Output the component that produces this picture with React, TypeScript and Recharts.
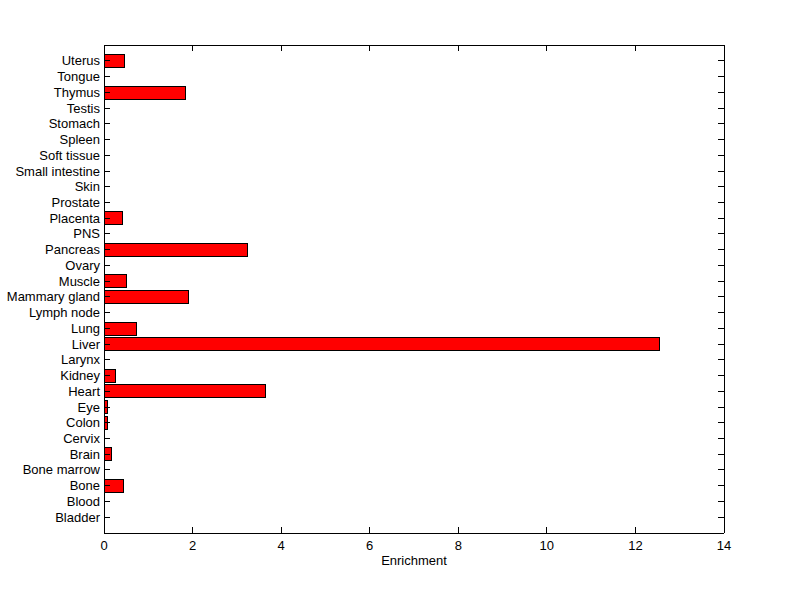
import React from 'react';
import { BarChart, Bar, XAxis, YAxis } from 'recharts';

const tissues = [
  'Bladder', 'Blood', 'Bone', 'Bone marrow', 'Brain', 'Cervix', 'Colon', 'Eye',
  'Heart', 'Kidney', 'Larynx', 'Liver', 'Lung', 'Lymph node', 'Mammary gland',
  'Muscle', 'Ovary', 'Pancreas', 'PNS', 'Placenta', 'Prostate', 'Skin',
  'Small intestine', 'Soft tissue', 'Spleen', 'Stomach', 'Testis', 'Thymus',
  'Tongue', 'Uterus',
];

const enrichment = [
  0, 0, 0.45, 0, 0.17, 0, 0.07, 0.07,
  3.64, 0.27, 0, 12.55, 0.745, 0, 1.9,
  0.5, 0, 3.25, 0, 0.41, 0, 0,
  0, 0, 0, 0, 0, 1.85,
  0, 0.47,
];

const xTicks = [0, 2, 4, 6, 8, 10, 12, 14];

const data = tissues.map((name, i) => ({ name, value: enrichment[i] }));

const FONT = '"Liberation Sans", Arial, Helvetica, sans-serif';
const font = { fontFamily: FONT, fontSize: 13, fill: '#000' };
const lineStyle = { stroke: '#000', shapeRendering: 'crispEdges' } as any;

const YTick = (props: any) => {
  const { x, y, payload } = props;
  return (
    <text x={x} y={y} textAnchor="end" dominantBaseline="central" fontFamily={FONT} fontSize={13} fill="#000">
      {payload.value}
    </text>
  );
};

const XTick = (props: any) => {
  const { x, y, payload } = props;
  return (
    <text x={x} y={y} textAnchor="middle" dominantBaseline="hanging" fontFamily={FONT} fontSize={13} fill="#000">
      {payload.value}
    </text>
  );
};

const EmptyTick = () => <g />;

export default function App() {
  return (
    <div style={{ position: 'absolute', left: 0, top: 0, width: 800, height: 599, background: '#fff' }}>
      <BarChart
        width={800}
        height={599}
        data={data}
        layout="vertical"
        margin={{ top: 44, right: 75, bottom: 26, left: 0 }}
        barCategoryGap="10%"
      >
        <XAxis
          xAxisId="bottom"
          type="number"
          domain={[0, 14]}
          ticks={xTicks}
          allowDataOverflow
          height={40}
          tickSize={-6}
          tickMargin={13}
          tick={<XTick />}
          stroke="#000"
          axisLine={lineStyle}
          tickLine={lineStyle}
          label={{ value: 'Enrichment', position: 'insideBottom', offset: 8, style: font }}
        />
        <XAxis
          xAxisId="top"
          orientation="top"
          type="number"
          domain={[0, 14]}
          ticks={xTicks}
          allowDataOverflow
          height={1}
          tickSize={-6}
          tick={<EmptyTick />}
          stroke="#000"
          axisLine={lineStyle}
          tickLine={lineStyle}
        />
        <YAxis
          yAxisId="left"
          type="category"
          dataKey="name"
          reversed
          width={104}
          interval={0}
          padding={{ top: 8, bottom: 8 }}
          tickSize={-6}
          tickMargin={10}
          tick={<YTick />}
          stroke="#000"
          axisLine={lineStyle}
          tickLine={lineStyle}
        />
        <YAxis
          yAxisId="right"
          orientation="right"
          type="category"
          dataKey="name"
          reversed
          width={1}
          interval={0}
          padding={{ top: 8, bottom: 8 }}
          tickSize={-6}
          tick={<EmptyTick />}
          stroke="#000"
          axisLine={lineStyle}
          tickLine={lineStyle}
        />
        <Bar
          dataKey="value"
          xAxisId="bottom"
          yAxisId="left"
          fill="#ff0000"
          stroke="#000"
          strokeWidth={1}
          shapeRendering="crispEdges"
          isAnimationActive={false}
        />
      </BarChart>
    </div>
  );
}
